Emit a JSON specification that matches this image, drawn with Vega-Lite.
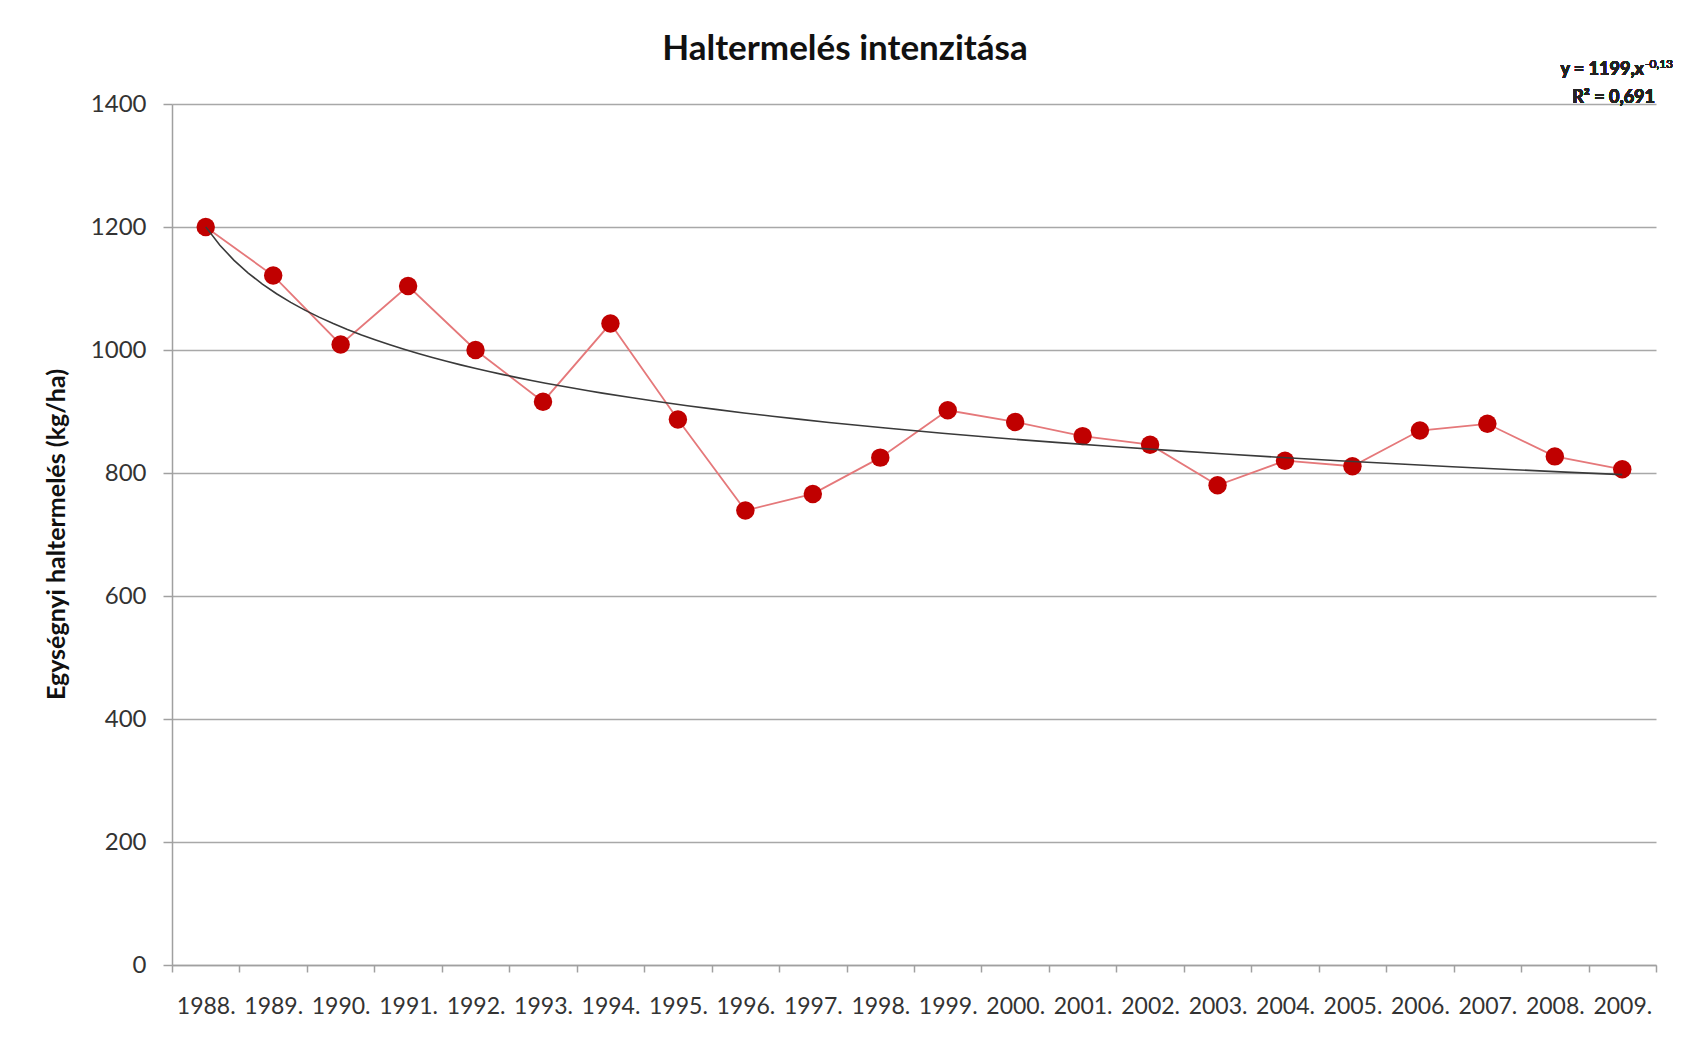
{
  "$schema": "https://vega.github.io/schema/vega-lite/v6.json",
  "width": 1484,
  "height": 861,
  "autosize": {"type": "none"},
  "padding": {"left": 172, "top": 104, "right": 33, "bottom": 83},
  "background": "white",
  "config": {
    "font": "Lato",
    "view": {"stroke": null},
    "axis": {"labelFont": "Lato", "titleFont": "Lato", "labelColor": "#333333", "titleColor": "#111111"}
  },
  "title": {
    "text": "Haltermelés intenzitása",
    "fontSize": 35,
    "fontWeight": "bold",
    "color": "#111111",
    "anchor": "middle",
    "frame": "group",
    "dx": -69,
    "dy": 38,
    "baseline": "alphabetic",
    "offset": 1
  },
  "data": {
    "values": [
      {"n": 1, "year": 1988, "value": 1200},
      {"n": 2, "year": 1989, "value": 1121},
      {"n": 3, "year": 1990, "value": 1009},
      {"n": 4, "year": 1991, "value": 1104},
      {"n": 5, "year": 1992, "value": 1000},
      {"n": 6, "year": 1993, "value": 916},
      {"n": 7, "year": 1994, "value": 1043},
      {"n": 8, "year": 1995, "value": 887},
      {"n": 9, "year": 1996, "value": 739},
      {"n": 10, "year": 1997, "value": 766},
      {"n": 11, "year": 1998, "value": 825},
      {"n": 12, "year": 1999, "value": 902},
      {"n": 13, "year": 2000, "value": 883},
      {"n": 14, "year": 2001, "value": 860},
      {"n": 15, "year": 2002, "value": 846},
      {"n": 16, "year": 2003, "value": 780},
      {"n": 17, "year": 2004, "value": 820},
      {"n": 18, "year": 2005, "value": 811},
      {"n": 19, "year": 2006, "value": 869},
      {"n": 20, "year": 2007, "value": 880},
      {"n": 21, "year": 2008, "value": 827},
      {"n": 22, "year": 2009, "value": 806}
    ]
  },
  "encoding": {
    "x": {
      "field": "n",
      "type": "quantitative",
      "scale": {"domain": [0.5, 22.5], "nice": false, "zero": false},
      "axis": {
        "title": null,
        "values": [0.5, 1.5, 2.5, 3.5, 4.5, 5.5, 6.5, 7.5, 8.5, 9.5, 10.5, 11.5, 12.5, 13.5, 14.5, 15.5, 16.5, 17.5, 18.5, 19.5, 20.5, 21.5, 22.5],
        "labelExpr": "datum.value < 22 ? (1988 + floor(datum.value)) + '.' : ''",
        "labelOffset": 33.73,
        "labelAlign": "center",
        "labelFlush": false,
        "labelOverlap": false,
        "labelFontSize": 23,
        "labelPadding": 23,
        "labelBaseline": "top",
        "grid": false,
        "tickSize": 7,
        "tickColor": "#a0a0a0",
        "domainColor": "#a0a0a0",
        "domainWidth": 1.5,
        "tickWidth": 1.5
      }
    },
    "y": {
      "field": "value",
      "type": "quantitative",
      "scale": {"domain": [0, 1400], "nice": false},
      "axis": {
        "title": "Egységnyi haltermelés (kg/ha)",
        "titleFontSize": 25,
        "titleFontWeight": "bold",
        "titleAngle": -90,
        "titleX": -116,
        "titleY": 430,
        "titleAlign": "center",
        "titleBaseline": "middle",
        "values": [0, 200, 400, 600, 800, 1000, 1200, 1400],
        "format": "d",
        "labelFontSize": 24,
        "labelPadding": 17,
        "tickSize": 9,
        "tickColor": "#a0a0a0",
        "domainColor": "#a0a0a0",
        "domainWidth": 1.5,
        "tickWidth": 1.5,
        "gridColor": "#a8a8a8",
        "gridWidth": 1.5
      }
    }
  },
  "layer": [
    {
      "mark": {"type": "line", "color": "#e5787a", "strokeWidth": 1.8}
    },
    {
      "mark": {"type": "point", "shape": "circle", "filled": true, "opacity": 1, "color": "#c00000", "size": 340}
    },
    {
      "transform": [{"regression": "value", "on": "n", "method": "pow", "extent": [1, 22]}],
      "mark": {"type": "line", "color": "#3a3a3a", "strokeWidth": 1.6}
    },
    {
      "mark": {"type": "text", "text": "y = 1199,x", "align": "right", "baseline": "alphabetic", "fontSize": 18, "fontWeight": "bold", "color": "#222222", "dx": -12, "dy": -29},
      "encoding": {"x": {"datum": 22.5, "type": "quantitative"}, "y": {"datum": 1400, "type": "quantitative"}}
    },
    {
      "mark": {"type": "text", "text": "-0,13", "align": "left", "baseline": "alphabetic", "fontSize": 12, "color": "#222222", "dx": -11, "dy": -36},
      "encoding": {"x": {"datum": 22.5, "type": "quantitative"}, "y": {"datum": 1400, "type": "quantitative"}}
    },
    {
      "mark": {"type": "text", "text": "R² = 0,691", "align": "right", "baseline": "alphabetic", "fontSize": 18, "fontWeight": "bold", "color": "#222222", "dx": -1, "dy": -1},
      "encoding": {"x": {"datum": 22.5, "type": "quantitative"}, "y": {"datum": 1400, "type": "quantitative"}}
    }
  ]
}
